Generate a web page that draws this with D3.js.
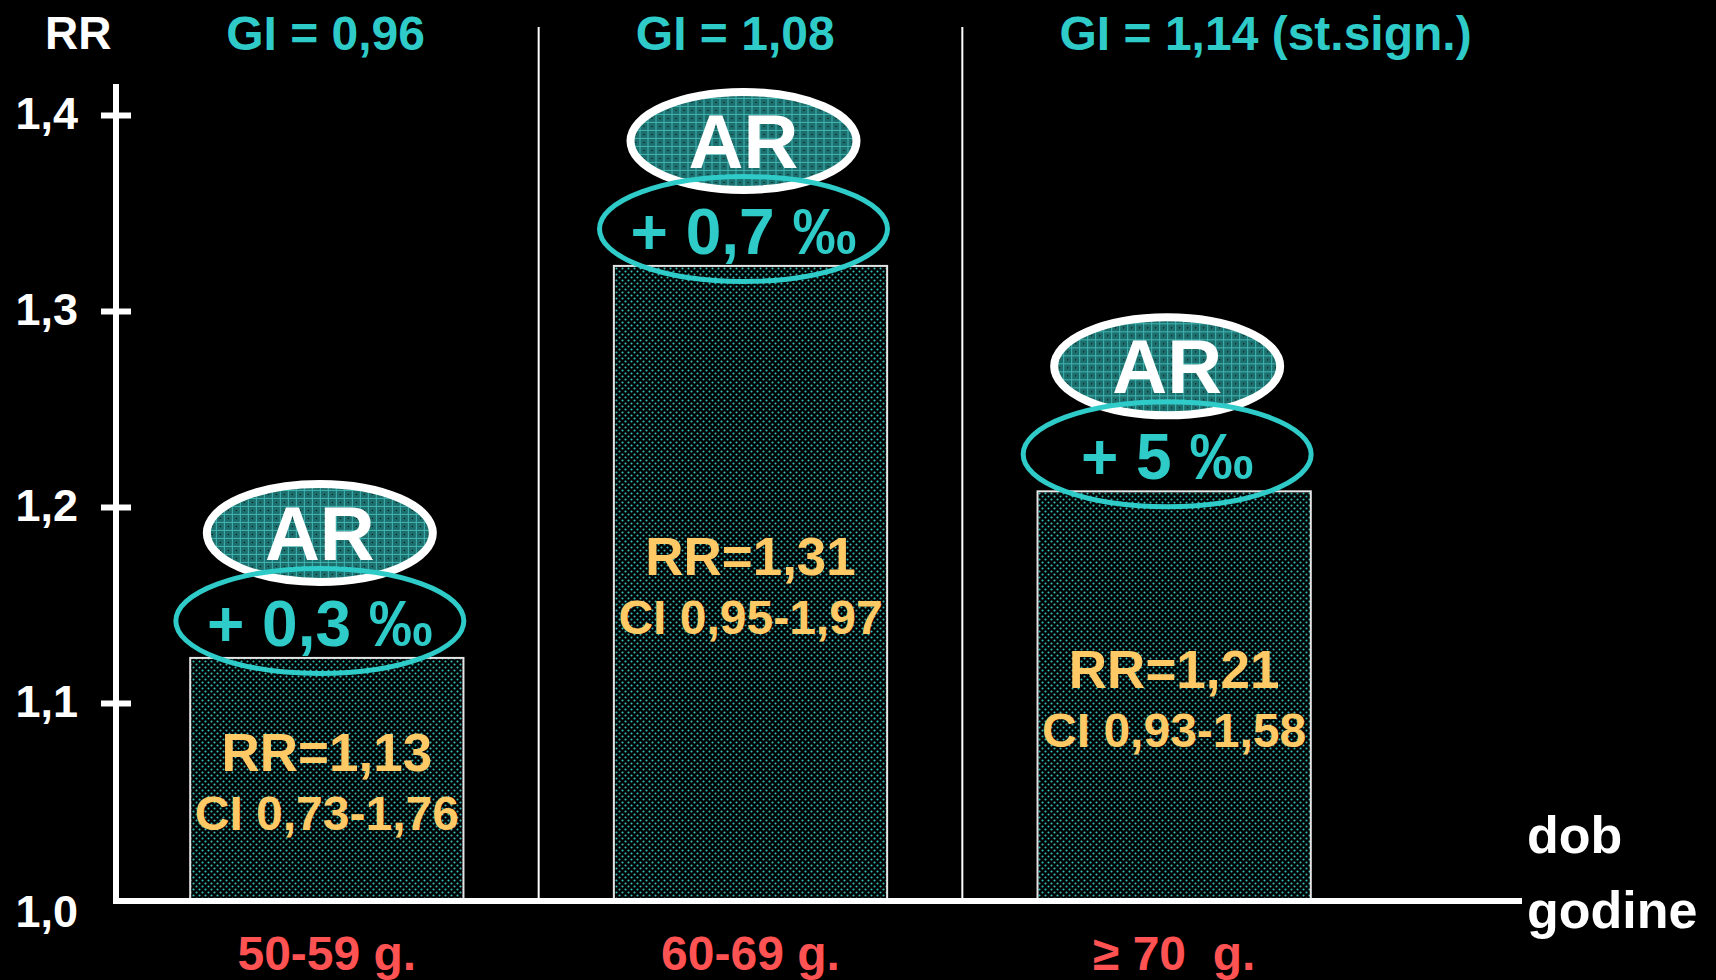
<!DOCTYPE html>
<html>
<head>
<meta charset="utf-8">
<script src="https://cdn.jsdelivr.net/npm/d3@7"></script>
<style>
  html, body { margin: 0; padding: 0; background: #000; }
  svg { display: block; }
  text { font-family: "Liberation Sans", Arial, sans-serif; font-weight: bold; white-space: pre; }
</style>
</head>
<body>
<div class="chart"></div>
<script>
// Values
var ageGroups = ["50-59 g.", "60-69 g.", "\u2265 70  g."];
var rrValues = [1.123, 1.323, 1.208];   // bar tops as drawn
var rrLabels = ["RR=1,13", "RR=1,31", "RR=1,21"];
var ciLabels = ["CI 0,73-1,76", "CI 0,95-1,97", "CI 0,93-1,58"];
var giLabels = ["GI = 0,96", "GI = 1,08", "GI = 1,14 (st.sign.)"];
var arLabels = ["+ 0,3 \u2030", "+ 0,7 \u2030", "+ 5 \u2030"];
var yTicks = [1.0, 1.1, 1.2, 1.3, 1.4];

var width = 1716, height = 980;
var cyan = "#2ecbc9", orange = "#ffc966", red = "#ff5252";

var svg = d3.select(".chart").append("svg")
  .attr("width", width)
  .attr("height", height);

var defs = svg.append("defs");

// Halftone dots for the bars
var dots = defs.append("pattern")
  .attr("id", "dots")
  .attr("patternUnits", "userSpaceOnUse")
  .attr("width", 6).attr("height", 6);
dots.append("rect").attr("width", 6).attr("height", 6).attr("fill", "#000");
dots.append("circle").attr("cx", 1.5).attr("cy", 1.5).attr("r", 1.05).attr("fill", "#31c2bf");
dots.append("circle").attr("cx", 4.5).attr("cy", 4.5).attr("r", 1.05).attr("fill", "#31c2bf");

// Teal grid for the "AR" ovals
var grid = defs.append("pattern")
  .attr("id", "grid")
  .attr("patternUnits", "userSpaceOnUse")
  .attr("width", 8).attr("height", 8);
grid.append("rect").attr("width", 8).attr("height", 8).attr("fill", "#1d6f6d");
grid.append("path").attr("d", "M0,0.5H8M0.5,0V8")
  .attr("stroke", "#3fb6b2").attr("stroke-width", 1);
grid.append("rect").attr("x", 4).attr("y", 4).attr("width", 1).attr("height", 1).attr("fill", "#000");

var x = d3.scaleBand()
  .domain(ageGroups)
  .range([115, 1386])
  .paddingInner(0.355)
  .paddingOuter(0.1775);

var y = d3.scaleLinear()
  .domain([1.0, 1.4])
  .range([899, 115]);

var axisX = 116;
var fmt = function(d) { return d3.format(".1f")(d).replace(".", ","); };

// Column separators
var sepX = ageGroups.slice(1).map(function(g) { return x(g) - x.step() * x.paddingInner() / 2; });
svg.selectAll(".sep")
  .data(sepX)
  .enter().append("line")
  .attr("class", "sep")
  .attr("x1", function(d) { return d; })
  .attr("x2", function(d) { return d; })
  .attr("y1", 27)
  .attr("y2", y(1.0))
  .attr("stroke", "#fff")
  .attr("stroke-width", 2);

// Bars
svg.selectAll(".bar")
  .data(rrValues)
  .enter().append("rect")
  .attr("class", "bar")
  .attr("x", function(d, i) { return x(ageGroups[i]); })
  .attr("y", function(d) { return y(d); })
  .attr("width", x.bandwidth())
  .attr("height", function(d) { return y(1.0) - y(d); })
  .attr("fill", "url(#dots)")
  .attr("stroke", "#e4e4e4")
  .attr("stroke-width", 2);

// RR and CI text inside the bars
function barMid(i) { return (y(rrValues[i]) + y(1.0)) / 2; }
function barCenter(i) { return x(ageGroups[i]) + x.bandwidth() / 2; }

svg.selectAll(".rr-label")
  .data(rrLabels)
  .enter().append("text")
  .attr("class", "rr-label")
  .attr("x", function(d, i) { return barCenter(i); })
  .attr("y", function(d, i) { return barMid(i) - 7; })
  .attr("text-anchor", "middle")
  .attr("font-size", 53)
  .attr("fill", orange)
  .text(function(d) { return d; });

svg.selectAll(".ci-label")
  .data(ciLabels)
  .enter().append("text")
  .attr("class", "ci-label")
  .attr("x", function(d, i) { return barCenter(i); })
  .attr("y", function(d, i) { return barMid(i) + 52; })
  .attr("text-anchor", "middle")
  .attr("font-size", 48)
  .attr("fill", orange)
  .text(function(d) { return d; });

// AR ovals sitting above every bar
var ar = svg.selectAll(".ar")
  .data(arLabels)
  .enter().append("g")
  .attr("class", "ar")
  .attr("transform", function(d, i) {
    return "translate(" + (barCenter(i) - 7) + "," + y(rrValues[i]) + ")";
  });

ar.append("ellipse")
  .attr("cy", -125)
  .attr("rx", 113)
  .attr("ry", 49)
  .attr("fill", "url(#grid)")
  .attr("stroke", "#fff")
  .attr("stroke-width", 8);

ar.append("text")
  .attr("y", -125 + 27)
  .attr("text-anchor", "middle")
  .attr("font-size", 76)
  .attr("fill", "#fff")
  .text("AR");

ar.append("ellipse")
  .attr("cy", -37)
  .attr("rx", 144)
  .attr("ry", 52.5)
  .attr("fill", "none")
  .attr("stroke", cyan)
  .attr("stroke-width", 5);

ar.append("text")
  .attr("y", -37 + 25)
  .attr("text-anchor", "middle")
  .attr("font-size", 64)
  .attr("fill", cyan)
  .text(function(d) { return d; });

// GI labels along the top
svg.selectAll(".gi-label")
  .data(giLabels)
  .enter().append("text")
  .attr("class", "gi-label")
  .attr("x", function(d, i) { return x(ageGroups[i]) + (i === 0 ? 36 : 22); })
  .attr("y", 50)
  .attr("font-size", 48)
  .attr("fill", cyan)
  .text(function(d) { return d; });

// Age group labels under the axis
svg.selectAll(".age-label")
  .data(ageGroups)
  .enter().append("text")
  .attr("class", "age-label")
  .attr("x", function(d, i) { return barCenter(i); })
  .attr("y", 970)
  .attr("text-anchor", "middle")
  .attr("font-size", 48)
  .attr("fill", red)
  .text(function(d) { return d; });

// Y axis with crossing ticks
var yAxis = svg.append("g")
  .attr("transform", "translate(" + axisX + ",0)")
  .call(d3.axisLeft(y).tickValues(yTicks.slice(1)).tickFormat(fmt).tickSize(15));

yAxis.select(".domain").remove();
yAxis.selectAll(".tick line")
  .attr("x1", -15)
  .attr("x2", 15)
  .attr("stroke", "#fff")
  .attr("stroke-width", 6);
yAxis.selectAll(".tick text")
  .attr("x", -38)
  .attr("dy", 13)
  .attr("font-size", 45)
  .attr("font-family", "Liberation Sans, Arial, sans-serif")
  .attr("fill", "#fff");

// 1,0 sits under the baseline, not on a tick
svg.append("text")
  .attr("x", axisX - 38)
  .attr("y", y(yTicks[0]) + 28)
  .attr("text-anchor", "end")
  .attr("font-size", 45)
  .attr("fill", "#fff")
  .text(fmt(yTicks[0]));

svg.append("line")
  .attr("x1", axisX).attr("x2", axisX)
  .attr("y1", 84).attr("y2", y(1.0) + 5)
  .attr("stroke", "#fff").attr("stroke-width", 6);

svg.append("line")
  .attr("x1", axisX - 3).attr("x2", 1522)
  .attr("y1", y(1.0) + 2).attr("y2", y(1.0) + 2)
  .attr("stroke", "#fff").attr("stroke-width", 6);

svg.append("text")
  .attr("x", axisX - 71)
  .attr("y", 49)
  .attr("font-size", 46)
  .attr("fill", "#fff")
  .text("RR");

svg.append("text")
  .attr("x", 1527)
  .attr("y", 853)
  .attr("font-size", 52)
  .attr("fill", "#fff")
  .text("dob");

svg.append("text")
  .attr("x", 1527)
  .attr("y", 928)
  .attr("font-size", 52)
  .attr("fill", "#fff")
  .text("godine");
</script>
</body>
</html>
